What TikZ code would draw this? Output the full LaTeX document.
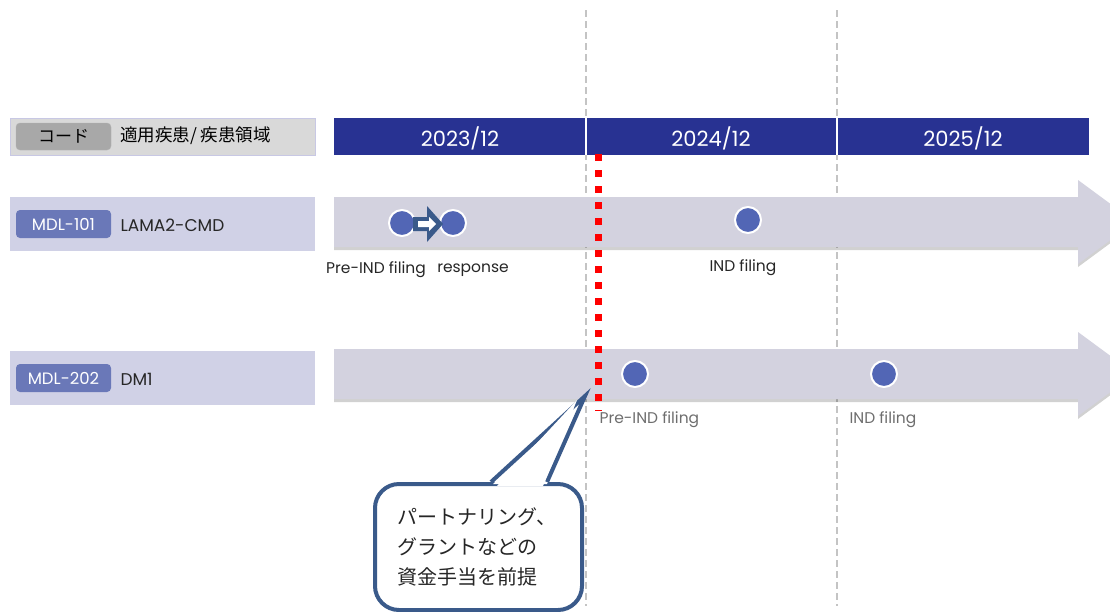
\documentclass[tikz,border=0pt]{standalone}
\usepackage{fontspec}
\setmainfont{Poppins}
\newfontfamily\cjk{Noto Sans CJK JP}
\definecolor{navy}{RGB}{40,50,146}
\definecolor{hdrgray}{RGB}{217,217,217}
\definecolor{hdrborder}{RGB}{200,200,228}
\definecolor{lav}{RGB}{208,209,230}
\definecolor{pill}{RGB}{106,120,184}
\definecolor{arrowfill}{RGB}{211,210,223}
\definecolor{dot}{RGB}{82,102,181}
\definecolor{callblue}{RGB}{58,90,138}
\definecolor{gridgray}{RGB}{196,196,196}
\definecolor{btn}{RGB}{168,168,168}
\definecolor{labgray}{RGB}{110,110,110}
\tikzset{
  rowbox/.style={fill=lav, draw=none, minimum width=305pt, minimum height=54pt, inner sep=0pt, anchor=north west},
  pillbox/.style={fill=pill, rounded corners=4pt, minimum width=95pt, minimum height=28pt, inner sep=0pt, text=white, font=\fontsize{16.5}{18}\selectfont},
  rowtext/.style={anchor=west, font=\fontsize{17}{19}\selectfont, text=black!85},
  year/.style={text=white, font=\fontsize{21}{23}\selectfont},
  milestone/.style={circle, fill=dot, draw=white, line width=2pt, minimum size=26pt, inner sep=0pt},
  lab/.style={font=\fontsize{15.5}{17}\selectfont, text=black!85},
  labg/.style={font=\fontsize{15.5}{17}\selectfont, text=labgray, anchor=west},
  grid/.style={gridgray, line width=1.6pt, dash pattern=on 7pt off 4pt},
  bigarrow/.style={fill=arrowfill},
  arrowshadow/.style={fill=black, opacity=0.18}
}
\begin{document}
\begin{tikzpicture}[x=1pt,y=-1pt]
\useasboundingbox (0,0) rectangle (1110,611);
\fill[white] (0,0) rectangle (1110,611);

% vertical grid lines
\coordinate (g1t) at (586,10); \coordinate (g1b) at (586,606);
\coordinate (g2t) at (837,10); \coordinate (g2b) at (837,606);
\draw[grid] (g1t) -- (g1b);
\draw[grid] (g2t) -- (g2b);

% header left
\node[fill=hdrgray, draw=hdrborder, line width=0.8pt, minimum width=305pt, minimum height=37pt, inner sep=0pt, anchor=north west] (hdr) at (10,118) {};
\node[fill=btn, draw=black!30, rounded corners=4pt, minimum width=95pt, minimum height=27pt, inner sep=0pt, font=\cjk\fontsize{17}{19}\selectfont] (code) at (63.5,136.5) {コード};
\node[anchor=west, font=\cjk\fontsize{17.5}{19}\selectfont, inner sep=0pt] (area) at (120,136) {適用疾患/ 疾患領域};

% header bar
\node[fill=navy, minimum width=755pt, minimum height=37pt, inner sep=0pt, anchor=north west] (bar) at (334,118) {};
\draw[white, line width=1.5pt] (586,118) -- (586,155);
\draw[white, line width=1.5pt] (837,118) -- (837,155);
\node[year] (y1) at (460,138) {2023/12};
\node[year] (y2) at (711,138) {2024/12};
\node[year] (y3) at (963,138) {2025/12};

% row 1
\node[rowbox] (r1) at (10,197) {};
\node[pillbox] (p1) at (63.5,224) {MDL-101};
\node[rowtext] (t1) at (117,225) {LAMA2-CMD};
\fill[arrowshadow] (334,200) -- (1078,200) -- (1078,183) -- (1135,225) -- (1078,267) -- (1078,250) -- (334,250) -- cycle;
\fill[bigarrow] (334,197) -- (1078,197) -- (1078,180) -- (1135,222) -- (1078,264) -- (1078,247) -- (334,247) -- cycle;

% row 2
\node[rowbox] (r2) at (10,351) {};
\node[pillbox] (p2) at (63.5,378) {MDL-202};
\node[rowtext] (t2) at (117,379) {DM1};
\fill[arrowshadow] (334,352) -- (1078,352) -- (1078,335) -- (1135,377) -- (1078,419) -- (1078,402) -- (334,402) -- cycle;
\fill[bigarrow] (334,349) -- (1078,349) -- (1078,332) -- (1135,374) -- (1078,416) -- (1078,399) -- (334,399) -- cycle;

% milestones row 1
\node[milestone] (m1) at (402,223) {};
\node[milestone] (m2) at (453,223) {};
\node[milestone] (m3) at (748,220) {};
\fill[callblue] (413,217) -- (427,217) -- (427,206) -- (443,224) -- (427,242) -- (427,231) -- (413,231) -- cycle;
\fill[white] (418,221) -- (429,221) -- (429,217) -- (436,224) -- (429,231) -- (429,227) -- (418,227) -- cycle;
\node[lab] (l1) at (376,270) {Pre-IND filing};
\node[lab] (l2) at (473,270) {response};
\node[lab] (l3) at (743,268) {IND filing};

% milestones row 2
\node[milestone] (m4) at (635,374) {};
\node[milestone] (m5) at (884,374) {};
\node[labg] (l4) at (596,420) {Pre-IND filing};
\node[labg] (l5) at (846,420) {IND filing};

% red dotted line
\coordinate (rt) at (598,154); \coordinate (rb) at (598,411);
\draw[red, line width=7pt, dash pattern=on 7pt off 9pt] (rt) -- (rb);

% callout
\node[draw=callblue, line width=4pt, fill=white, rounded corners=24pt, minimum width=207pt, minimum height=126pt, inner sep=0pt, anchor=north west] (cb) at (373,482) {};
\coordinate (tip) at (585,396);
\fill[white] (493,484) -- (tip) -- (547,484) -- cycle;
\draw[callblue, line width=4pt, line join=miter] (491,482) -- (tip) -- (547,482);
\fill[white] (497,486) -- (577,400) -- (543,486) -- cycle;
\node[align=left, anchor=west, font=\cjk\fontsize{20}{30}\selectfont, text=black!85] (ct) at (394,547) {パートナリング、\\グラントなどの\\資金手当を前提};
\end{tikzpicture}
\end{document}
